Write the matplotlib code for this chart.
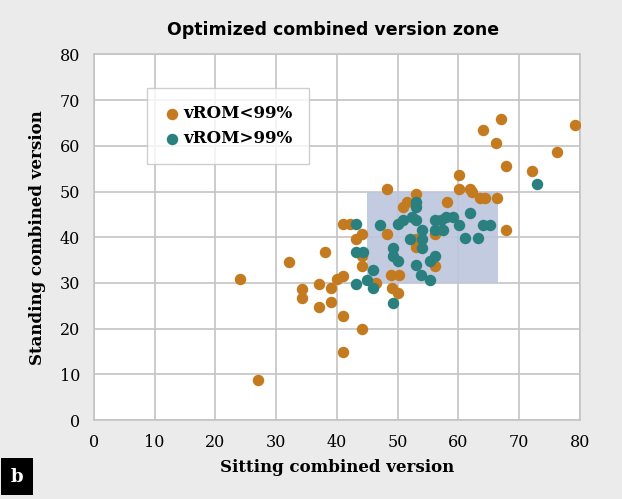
import matplotlib.pyplot as plt
from matplotlib.patches import Rectangle

# vROM<99% (orange)
low_x = [24.1, 27.0, 32.1, 34.2, 34.2, 37.1, 37.1, 38.1, 39.1, 39.1, 40.1, 41.1, 41.1,
         41.1, 44.1, 41.0, 42.1, 44.2, 43.1, 44.1, 44.1, 46.5, 48.2, 48.2, 49.0, 50.2,
         49.1, 50.1, 50.9, 51.5, 53.1, 53.0, 53.0, 56.1, 56.1, 58.1, 60.2, 60.2, 62.0,
         62.2, 63.5, 64.4, 66.3, 67.9, 67.1, 64.1, 66.2, 79.2, 76.2, 72.2, 67.9]
low_y = [30.8, 8.7, 34.6, 28.7, 26.8, 29.7, 24.7, 36.7, 28.9, 25.9, 30.8, 31.5, 22.8,
         15.0, 20.0, 42.8, 42.8, 40.8, 39.6, 35.8, 33.8, 30.0, 50.5, 40.8, 31.7, 31.7,
         29.0, 27.8, 46.7, 47.7, 49.5, 39.7, 37.8, 40.8, 33.8, 47.7, 53.7, 50.6, 50.6,
         49.9, 48.6, 48.6, 48.6, 41.7, 65.8, 63.5, 60.6, 64.5, 58.6, 54.6, 55.5]

# vROM>99% (teal)
high_x = [43.2, 47.1, 53.1, 53.1, 52.3, 50.9, 50.1, 53.1, 54.1, 54.1, 54.1, 52.0, 56.1,
          56.1, 57.2, 58.0, 59.1, 57.5, 60.2, 62.0, 61.1, 63.3, 64.1, 65.2, 49.3, 49.3,
          50.1, 53.1, 55.3, 56.1, 53.9, 55.3, 43.1, 44.3, 46.0, 44.9, 43.2, 46.0, 49.3,
          73.0]
high_y = [42.8, 42.7, 47.7, 46.6, 44.4, 43.7, 42.8, 43.7, 41.5, 39.7, 37.7, 39.7, 43.7,
          41.5, 43.7, 44.4, 44.5, 41.5, 42.7, 45.4, 39.8, 39.8, 42.7, 42.7, 37.7, 35.8,
          34.9, 33.9, 34.9, 35.8, 31.7, 30.6, 36.7, 36.7, 32.9, 30.6, 29.7, 29.0, 25.6,
          51.6]

# optimized zone
zone_x = [45, 66.5]
zone_y = [30, 50]

orange = "#c47a1e"
teal = "#2a7f7f"
serif = "DejaVu Serif"

fig = plt.figure(figsize=(6.22, 4.99), dpi=100, facecolor="#ebebeb")
ax = fig.add_axes([0.151, 0.158, 0.781, 0.733])
ax.set_facecolor("white")

ax.add_patch(Rectangle((zone_x[0], zone_y[0]), zone_x[1] - zone_x[0], zone_y[1] - zone_y[0],
                       facecolor="#bcc6dd", alpha=0.9, edgecolor="none", zorder=1))

ax.scatter(low_x, low_y, s=68, color=orange, label="vROM<99%", zorder=3, linewidths=0)
ax.scatter(high_x, high_y, s=68, color=teal, label="vROM>99%", zorder=3, linewidths=0)

ax.set_xlim(0, 80)
ax.set_ylim(0, 80)
ax.set_xticks(range(0, 81, 10))
ax.set_yticks(range(0, 81, 10))
ax.grid(True, color="#c4c4c4", linewidth=1.2)
ax.set_axisbelow(True)
for sp in ax.spines.values():
    sp.set_color("#c4c4c4")
    sp.set_linewidth(1.2)
ax.tick_params(length=0, pad=10, labelsize=11.5)
for lab in ax.get_xticklabels() + ax.get_yticklabels():
    lab.set_family(serif)

ax.set_xlabel("Sitting combined version", family=serif, fontweight="bold", fontsize=12, labelpad=6)
ax.set_ylabel("Standing combined version", family=serif, fontweight="bold", fontsize=12, labelpad=10)
fig.text(0.535, 0.94, "Optimized combined version zone", ha="center", va="center",
         fontsize=12.5, fontweight="bold", family="DejaVu Sans")

leg = ax.legend(loc="upper left", bbox_to_anchor=(0.109, 0.907), frameon=True, fancybox=False,
                prop={"family": serif, "weight": "bold", "size": 12}, labelspacing=0.5,
                handletextpad=0.2, handlelength=1.0, borderpad=1.0, borderaxespad=0)
leg.get_frame().set_edgecolor("#c4c4c4")
leg.get_frame().set_linewidth(1.0)

fig.text(0.027, 0.045, "b", ha="center", va="center", color="white", fontsize=13,
         fontweight="bold", family=serif,
         bbox=dict(boxstyle="square,pad=0.55", facecolor="black", edgecolor="none"))

fig.savefig("out.png", dpi=100, facecolor=fig.get_facecolor())
